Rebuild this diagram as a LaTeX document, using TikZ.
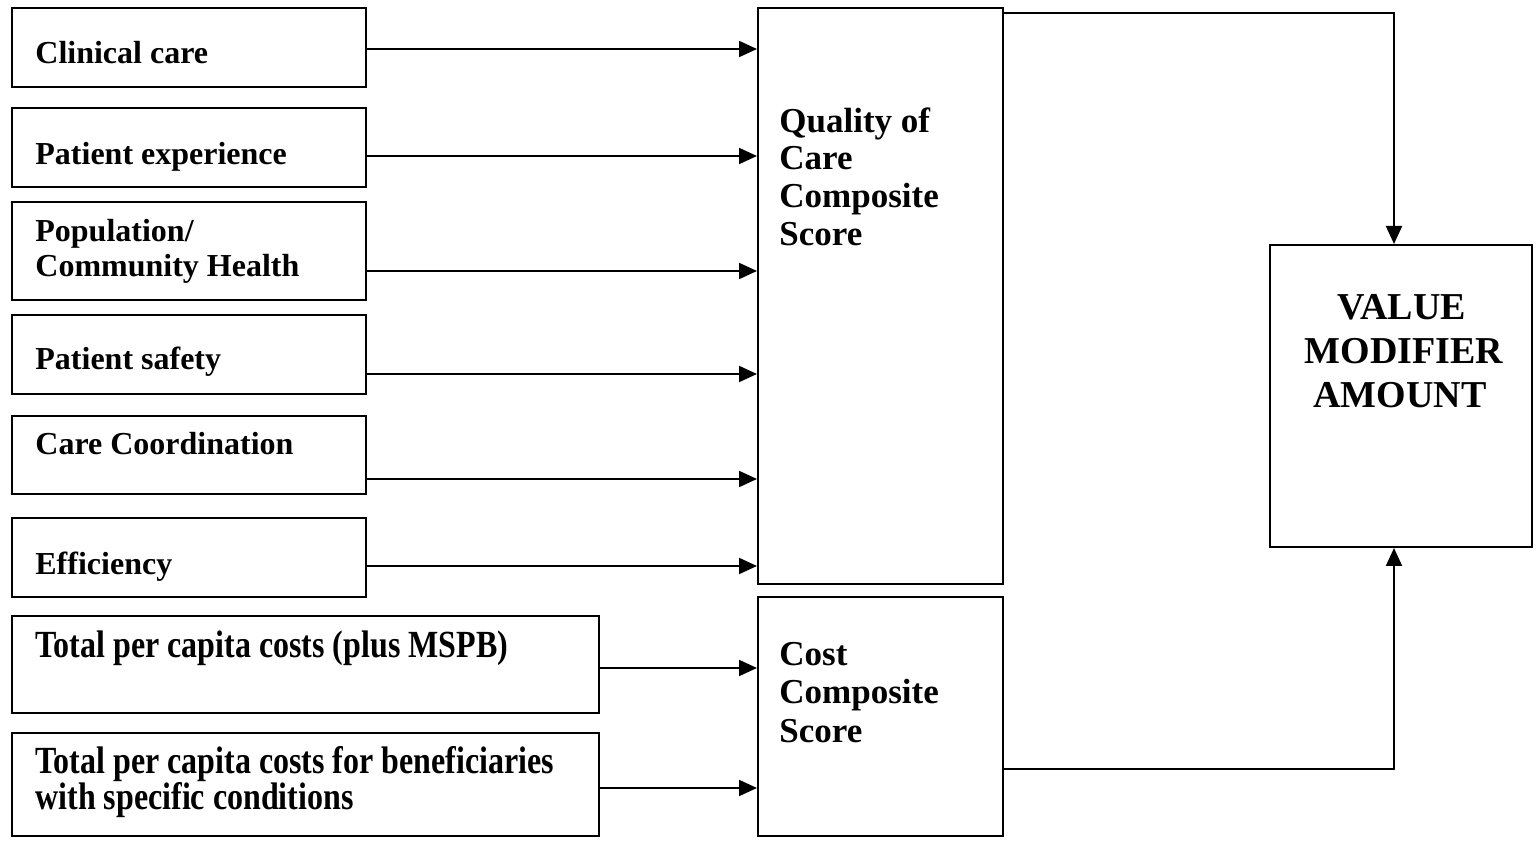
\documentclass[tikz,border=0pt]{standalone}
\usepackage{fontspec}
\setmainfont{Liberation Serif}
\usetikzlibrary{arrows.meta,calc}
\begin{document}
\begin{tikzpicture}[x=0.5pt,y=-0.5pt,
  box/.style={draw=black,line width=1pt,inner sep=0pt,anchor=north west},
  lbl/.style={anchor=base west,inner sep=0pt,align=left,font=\fontsize{16}{18.8}\selectfont\bfseries},
  mid/.style={anchor=base west,inner sep=0pt,align=left,font=\fontsize{17.5}{20}\selectfont\bfseries},
  big/.style={anchor=base,inner sep=0pt,align=center,font=\fontsize{19}{22}\selectfont\bfseries},
  arr/.style={line width=1pt,-{Triangle[length=9pt,width=8pt]}}]
\useasboundingbox (0,0) rectangle (1538,844);
% left boxes
\node[box,minimum width=177pt,minimum height=39.5pt] (cc) at (11,7) {};
\node[box,minimum width=177pt,minimum height=39.5pt] (pe) at (11,107) {};
\node[box,minimum width=177pt,minimum height=49pt] (pop) at (11,201) {};
\node[box,minimum width=177pt,minimum height=39.5pt] (ps) at (11,314) {};
\node[box,minimum width=177pt,minimum height=39pt] (co) at (11,415) {};
\node[box,minimum width=177pt,minimum height=39.5pt] (ef) at (11,517) {};
\node[box,minimum width=293.5pt,minimum height=48.5pt] (t1) at (11,615) {};
\node[box,minimum width=293.5pt,minimum height=51.5pt] (t2) at (11,732) {};
% middle and right boxes
\node[box,minimum width=122.5pt,minimum height=288pt] (q) at (757,7) {};
\node[box,minimum width=122.5pt,minimum height=119.5pt] (cost) at (757,596) {};
\node[box,minimum width=131pt,minimum height=151pt] (v) at (1269,244) {};
% labels
\node[lbl] (l1) at (35,64) {Clinical care};
\node[lbl] (l2) at (35,165) {Patient experience};
\node[lbl] (l3a) at (35,242) {Population/};
\node[lbl] (l3b) at (35,277) {Community Health};
\node[lbl] (l4) at (35,370) {Patient safety};
\node[lbl] (l5) at (35,455) {Care Coordination};
\node[lbl] (l6) at (35,575) {Efficiency};
\node[lbl] (l7) at (35,657) {\scalebox{1}[1.2]{Total per capita costs (plus MSPB)}};
\node[lbl] (l8a) at (35,773) {\scalebox{1}[1.2]{Total per capita costs for beneficiaries}};
\node[lbl] (l8b) at (35,809) {\scalebox{1}[1.2]{with specific conditions}};
\node[mid] (lq1) at (779,133) {Quality of};
\node[mid] (lq2) at (779,170) {Care};
\node[mid] (lq3) at (779,208) {Composite};
\node[mid] (lq4) at (779,246) {Score};
\node[mid] (lc1) at (779,666) {Cost};
\node[mid] (lc2) at (779,704) {Composite};
\node[mid] (lc3) at (779,742) {Score};
\node[big] (lv1) at (1402,320) {VALUE};
\node[big] (lv2) at (1404,364) {MODIFIER};
\node[big] (lv3) at (1400,408) {AMOUNT};
% arrows
\draw[arr] ([yshift=-0.75pt]cc.east) -- ([yshift=-0.75pt]cc.east -| q.west);
\draw[arr] ([yshift=-4.25pt]pe.east) -- ([yshift=-4.25pt]pe.east -| q.west);
\draw[arr] ([yshift=-10pt]pop.east) -- ([yshift=-10pt]pop.east -| q.west);
\draw[arr] ([yshift=-9.75pt]ps.east) -- ([yshift=-9.75pt]ps.east -| q.west);
\draw[arr] ([yshift=-12pt]co.east) -- ([yshift=-12pt]co.east -| q.west);
\draw[arr] ([yshift=-4.25pt]ef.east) -- ([yshift=-4.25pt]ef.east -| q.west);
\draw[arr] ([yshift=-1.75pt]t1.east) -- ([yshift=-1.75pt]t1.east -| cost.west);
\draw[arr] ([yshift=-1.75pt]t2.east) -- ([yshift=-1.75pt]t2.east -| cost.west);
\draw[arr] ([yshift=-3pt]q.north east) -| ([xshift=-3.5pt]v.north);
\draw[arr] ([yshift=-26.25pt]cost.east) -| ([xshift=-3.5pt]v.south);
\end{tikzpicture}
\end{document}
